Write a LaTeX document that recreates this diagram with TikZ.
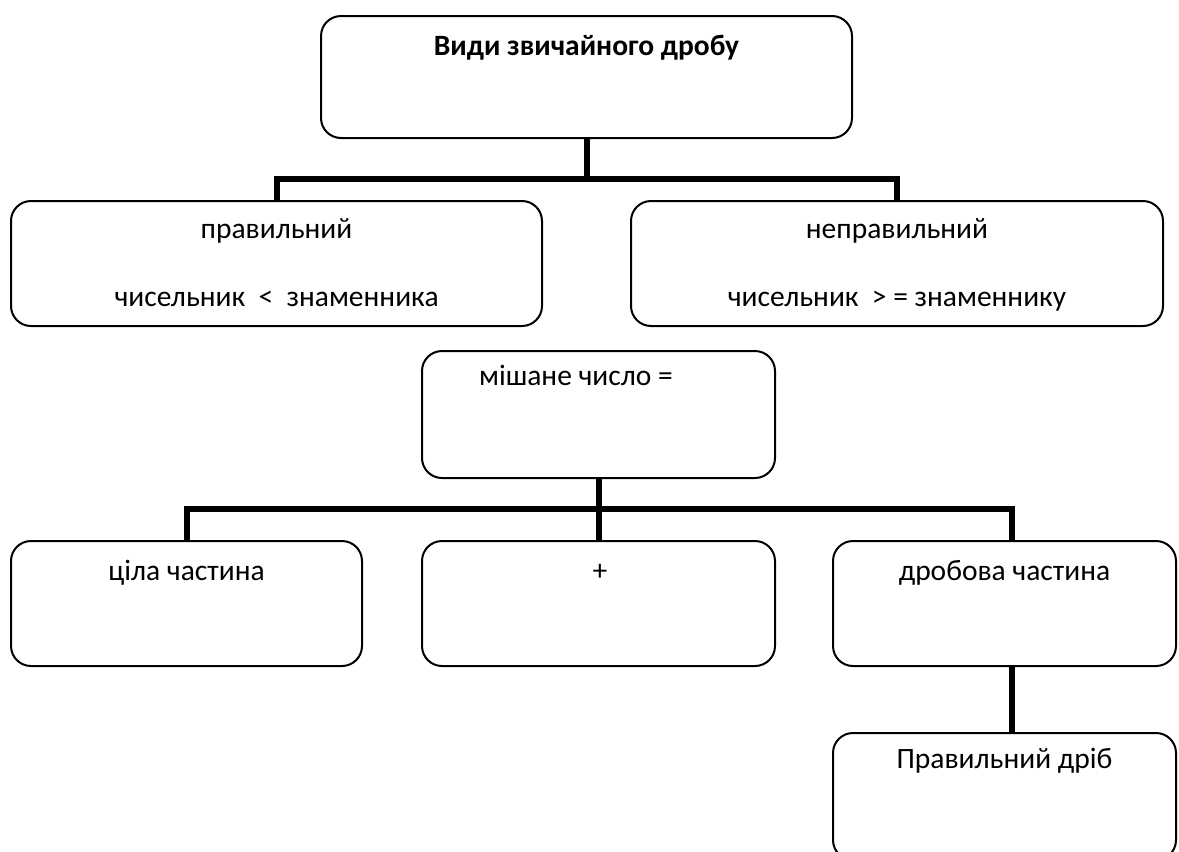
\documentclass[tikz,border=0pt]{standalone}
\usepackage{fontspec}
\setmainfont{Carlito}
\begin{document}
\begin{tikzpicture}[x=1pt,y=-1pt,
  box/.style={draw=black,line width=2pt,rounded corners=20pt,rectangle,inner sep=0pt},
  conn/.style={draw=black,line width=6pt,line join=miter},
  txt/.style={anchor=base,inner sep=0pt,font=\fontsize{29.5}{34}\selectfont}]
\clip (0,0) rectangle (1179,852);
% boxes
\node[box,minimum width=531pt,minimum height=122pt] (top) at (586.5,77) {};
\node[box,minimum width=531pt,minimum height=125pt] (prav) at (276.5,263.5) {};
\node[box,minimum width=532pt,minimum height=125pt] (neprav) at (897,263.5) {};
\node[box,minimum width=353pt,minimum height=127pt] (mix) at (598.5,414.5) {};
\node[box,minimum width=351pt,minimum height=125pt] (whole) at (186.5,603.5) {};
\node[box,minimum width=353pt,minimum height=125pt] (plus) at (598.5,603.5) {};
\node[box,minimum width=343pt,minimum height=125pt] (frac) at (1004.5,603.5) {};
\node[box,minimum width=343pt,minimum height=127pt] (fin) at (1004.5,796.5) {};
% texts
\node[txt,font=\fontsize{29.5}{34}\selectfont\bfseries] (t0) at (586.5,55) {Види звичайного дробу};
\node[txt] (t1) at (276.5,238) {правильний};
\node[txt] (t2) at (276.5,306) {чисельник \ < \ знаменника};
\node[txt] (t3) at (897,238) {неправильний};
\node[txt] (t4) at (897,306) {чисельник \ > = знаменнику};
\node[txt] (t5) at (576,385) {мішане число =};
\node[txt] (t6) at (186.5,580) {ціла частина};
\node[txt] (t7) at (600,580) {+};
\node[txt] (t8) at (1004.5,580) {дробова частина};
\node[txt] (t9) at (1004.5,768) {Правильний дріб};
% connectors
\coordinate (j1) at (586.5,179);
\coordinate (j2) at (598.5,509);
\coordinate (d3) at (1012,541);
\draw[conn] (top.south) -- (j1);
\draw[conn] (prav.north) |- (j1) -| (neprav.north);
\draw[conn] (mix.south) -- (j2);
\draw[conn] (whole.north) |- (j2) -| (d3);
\draw[conn] (plus.north) -- (j2);
\draw[conn] (frac.south -| d3) -- (fin.north -| d3);
\end{tikzpicture}
\end{document}
